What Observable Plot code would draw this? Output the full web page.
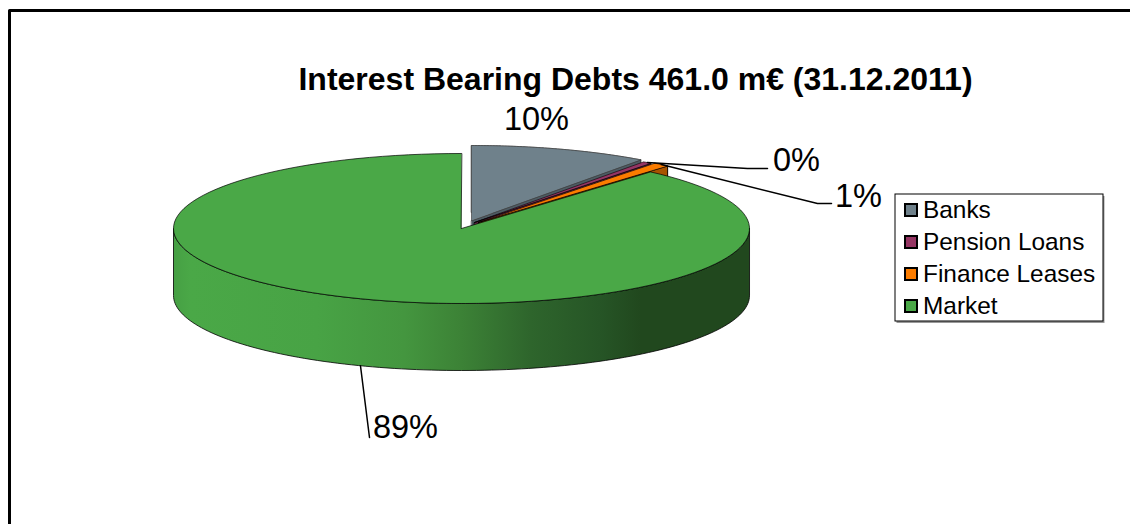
<!DOCTYPE html>
<html>
<head>
<meta charset="utf-8">
<script src="https://cdn.jsdelivr.net/npm/d3@7"></script>
<script src="https://cdn.jsdelivr.net/npm/@observablehq/plot@0.6"></script>
<style>html,body{margin:0;padding:0;background:#fff}svg{display:block}</style>
</head>
<body>
<div id="chart"></div>
<script>
// ---- data ----
const categories = ["Banks", "Pension Loans", "Finance Leases", "Market"];
const shares = [10.0, 0.49, 0.91, 88.6];
const shareLabels = ["10%", "0%", "1%", "89%"];
const titleText = "Interest Bearing Debts 461.0 m€ (31.12.2011)";

// ---- styles and layout ----
const W = 1130, H = 524;
const FONT = "Liberation Sans, Arial, sans-serif";
const topColors = ["#6f818b", "#953563", "#fb7c00", "#4aa847"];
const wallColors = ["#4d5b63", "#6b2547", "#a85400", "#4aa847"];
const pie = {cx: 461, cy: 228, rx: 288, ry: 75, depth: 67};
const apex = [[471, 220], [474, 222], [478, 222], [461, 228]];
const labelPos = [[536, 129], [796, 170], [858, 206], [405, 437]];
const leaderEnds = [null, [[747, 168], [767, 168]], [[817, 203], [831, 203]], [[369, 437]]];
const leaderAngles = [null, null, null, 3.5];
const legendBox = {x1: 895, y1: 194, x2: 1103, y2: 321};

const slices = [];
{
  let a = 0;
  const total = d3.sum(shares);
  shares.forEach((s, i) => {
    const a0 = a, a1 = a + s / total * 2 * Math.PI;
    slices.push({name: categories[i], a0, a1, ox: apex[i][0], oy: apex[i][1], i});
    a = a1;
  });
}
const pt = (s, a, dz = 0) => ({x: s.ox + pie.rx * Math.sin(a), y: s.oy - pie.ry * Math.cos(a) + dz});
const arc = (s, a0, a1, dz = 0) => d3.range(0, 121).map(k => pt(s, a0 + (a1 - a0) * k / 120, dz));
const topShape = s => [{x: s.ox, y: s.oy}, ...arc(s, s.a0, s.a1)];
const rimShape = (s, a0, a1) => [...arc(s, a0, a1), ...arc(s, a1, a0, pie.depth)];
const faceShape = (s, a) => [{x: s.ox, y: s.oy}, pt(s, a), pt(s, a, pie.depth), {x: s.ox, y: s.oy + pie.depth}];

const poly = (points, fill, stroke = "#000", strokeWidth = 1) =>
  Plot.line(points, {x: "x", y: "y", fill, stroke, strokeWidth, curve: "linear-closed", strokeLinejoin: "round"});

const wallGradient = () => {
  const ns = "http://www.w3.org/2000/svg";
  const defs = document.createElementNS(ns, "defs");
  const g = document.createElementNS(ns, "linearGradient");
  g.setAttribute("id", "wall");
  const stops = [[0, "#46a044"], [0.03, "#4aa847"], [0.25, "#48a345"], [0.40, "#44963f"], [0.50, "#3c8236"], [0.62, "#2e652c"], [0.74, "#265526"], [0.81, "#21481e"], [1, "#21481e"]];
  for (const [o, c] of stops) {
    const st = document.createElementNS(ns, "stop");
    st.setAttribute("offset", o);
    st.setAttribute("stop-color", c);
    g.appendChild(st);
  }
  defs.appendChild(g);
  return defs;
};

const [banks, pension, finance, market] = slices;
const marks = [
  wallGradient,
  // page frame: only the top and left edges fall inside the picture
  Plot.line([{x: 9, y: H}, {x: 9, y: 10}, {x: W, y: 10}], {x: "x", y: "y", stroke: "#000", strokeWidth: 3}),

  // exploded slices, back to front
  poly(rimShape(banks, banks.a0, banks.a1), wallColors[0], "#333", 0.6),
  poly(faceShape(banks, banks.a1), wallColors[0], "#333", 0.6),
  poly(topShape(banks), topColors[0], "#444", 0.7),
  poly(faceShape(pension, pension.a1), wallColors[1], "#000", 0.8),
  poly(topShape(pension), topColors[1], "#000", 0.6),
  poly(rimShape(finance, finance.a0, finance.a1), wallColors[2], "#000", 0.6),
  poly(faceShape(finance, finance.a1), wallColors[2], "#000", 0.8),
  poly(topShape(finance), topColors[2], "#000", 0.6),

  // market slice: wall then top
  poly(rimShape(market, Math.PI / 2, 3 * Math.PI / 2), "url(#wall)", "#000", 0.8),
  poly(topShape(market), topColors[3], "#000", 0.7),

  // leader lines
  ...[1, 2, 3].map(i => {
    const s = slices[i];
    const start = leaderAngles[i] != null
      ? pt(s, leaderAngles[i], pie.depth)
      : pt(s, (s.a0 + s.a1) / 2);
    const line = [start, ...leaderEnds[i].map(([x, y]) => ({x, y}))];
    return Plot.line(line, {x: "x", y: "y", stroke: "#000", strokeWidth: 1.5});
  }),

  // value labels
  Plot.text(shareLabels.map((t, i) => ({t, x: labelPos[i][0], y: labelPos[i][1]})), {
    x: "x", y: "y", text: "t", fontSize: 32.5, fontFamily: FONT, fill: "#000", textAnchor: "middle", lineAnchor: "bottom"
  }),

  // title
  Plot.text([titleText], {
    x: () => 635, y: () => 89, text: d => d, fontSize: 32, fontWeight: "bold", fontFamily: FONT, fill: "#000",
    textAnchor: "middle", lineAnchor: "bottom"
  }),

  // legend
  Plot.rect([legendBox], {x1: d => d.x1 + 1.5, x2: d => d.x2 + 1.5, y1: d => d.y1 + 2, y2: d => d.y2 + 2, fill: "#999"}),
  Plot.rect([legendBox], {x1: "x1", x2: "x2", y1: "y1", y2: "y2", fill: "#fff", stroke: "#000", strokeWidth: 1}),
  Plot.rect(categories.map((c, i) => ({c, i})), {
    x1: () => legendBox.x1 + 10, x2: () => legendBox.x1 + 22,
    y1: d => legendBox.y1 + 10 + d.i * 32, y2: d => legendBox.y1 + 22 + d.i * 32,
    fill: d => topColors[d.i], stroke: "#000", strokeWidth: 2
  }),
  Plot.text(categories.map((c, i) => ({c, i})), {
    x: () => legendBox.x1 + 27.5, y: d => legendBox.y1 + 16 + d.i * 32, text: "c",
    fontSize: 24.4, fontFamily: FONT, fill: "#000", textAnchor: "start"
  })
];

const chart = Plot.plot({
  width: W, height: H,
  marginTop: 0, marginRight: 0, marginBottom: 0, marginLeft: 0,
  x: {domain: [0, W], range: [0, W], axis: null},
  y: {domain: [0, H], range: [0, H], axis: null},
  style: {background: "#fff", fontFamily: FONT},
  marks
});
document.getElementById("chart").appendChild(chart);
</script>
</body>
</html>
